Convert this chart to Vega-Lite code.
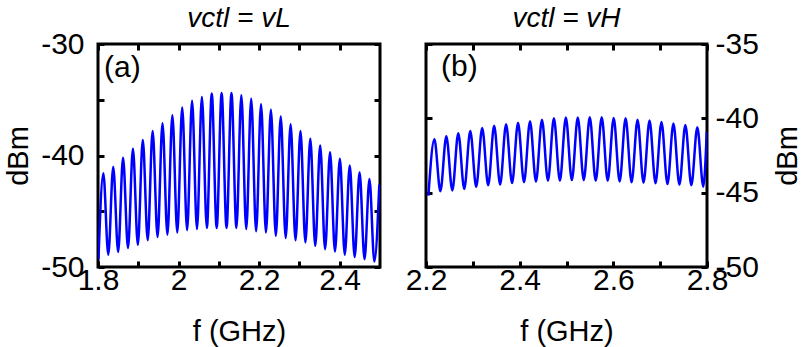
{
  "$schema": "https://vega.github.io/schema/vega-lite/v6.json",
  "background": "white",
  "padding": {"left": 3, "top": 3, "right": 0, "bottom": 0},
  "spacing": 46,
  "bounds": "flush",
  "config": {
    "font": "Liberation Sans",
    "view": {"stroke": "black", "strokeWidth": 3},
    "axis": {
      "domain": false, "grid": false, "ticks": true, "tickSize": -6, "tickWidth": 3, "tickColor": "black",
      "labelFont": "Liberation Sans", "labelFontSize": 30, "labelColor": "black", "labelOverlap": false, "labelFlush": false,
      "titleFont": "Liberation Sans", "titleFontSize": 29, "titleFontWeight": "normal", "titleColor": "black"
    },
    "title": {"font": "Liberation Sans", "fontSize": 28, "fontStyle": "italic", "fontWeight": "normal", "color": "black", "anchor": "middle"}
  },
  "datasets": {
    "a": [
      {"f": 1.8011, "dBm": -49.3}, {"f": 1.8133, "dBm": -41.6}, {"f": 1.8255, "dBm": -48.9}, {"f": 1.8378, "dBm": -41.0},
      {"f": 1.8500, "dBm": -48.65}, {"f": 1.8622, "dBm": -40.2}, {"f": 1.8745, "dBm": -48.3}, {"f": 1.8867, "dBm": -39.4},
      {"f": 1.8989, "dBm": -48.0}, {"f": 1.9112, "dBm": -38.6}, {"f": 1.9234, "dBm": -47.6}, {"f": 1.9356, "dBm": -37.8},
      {"f": 1.9479, "dBm": -47.3}, {"f": 1.9601, "dBm": -37.1}, {"f": 1.9723, "dBm": -47.1}, {"f": 1.9846, "dBm": -36.4},
      {"f": 1.9968, "dBm": -46.9}, {"f": 2.0090, "dBm": -35.7}, {"f": 2.0212, "dBm": -46.7}, {"f": 2.0335, "dBm": -35.1},
      {"f": 2.0457, "dBm": -46.6}, {"f": 2.0579, "dBm": -34.75}, {"f": 2.0702, "dBm": -46.5}, {"f": 2.0824, "dBm": -34.45},
      {"f": 2.0946, "dBm": -46.5}, {"f": 2.1069, "dBm": -34.4}, {"f": 2.1191, "dBm": -46.5}, {"f": 2.1313, "dBm": -34.4},
      {"f": 2.1436, "dBm": -46.5}, {"f": 2.1558, "dBm": -34.6}, {"f": 2.1680, "dBm": -46.6}, {"f": 2.1803, "dBm": -34.9},
      {"f": 2.1925, "dBm": -46.8}, {"f": 2.2047, "dBm": -35.4}, {"f": 2.2169, "dBm": -46.9}, {"f": 2.2292, "dBm": -35.9},
      {"f": 2.2414, "dBm": -47.2}, {"f": 2.2536, "dBm": -36.5}, {"f": 2.2659, "dBm": -47.4}, {"f": 2.2781, "dBm": -37.2},
      {"f": 2.2903, "dBm": -47.6}, {"f": 2.3026, "dBm": -37.8}, {"f": 2.3148, "dBm": -47.8}, {"f": 2.3270, "dBm": -38.5},
      {"f": 2.3393, "dBm": -48.1}, {"f": 2.3515, "dBm": -39.1}, {"f": 2.3637, "dBm": -48.4}, {"f": 2.3760, "dBm": -39.7},
      {"f": 2.3882, "dBm": -48.6}, {"f": 2.4004, "dBm": -40.3}, {"f": 2.4126, "dBm": -48.9}, {"f": 2.4249, "dBm": -40.9},
      {"f": 2.4371, "dBm": -49.1}, {"f": 2.4493, "dBm": -41.5}, {"f": 2.4616, "dBm": -49.3}, {"f": 2.4738, "dBm": -42.1},
      {"f": 2.4860, "dBm": -49.5}, {"f": 2.4983, "dBm": -42.6}
    ],
    "b": [
      {"f": 2.2051, "dBm": -45.2}, {"f": 2.2179, "dBm": -41.4}, {"f": 2.2307, "dBm": -44.9}, {"f": 2.2434, "dBm": -41.2},
      {"f": 2.2562, "dBm": -44.85}, {"f": 2.2689, "dBm": -41.0}, {"f": 2.2817, "dBm": -44.75}, {"f": 2.2945, "dBm": -40.85},
      {"f": 2.3072, "dBm": -44.6}, {"f": 2.3200, "dBm": -40.65}, {"f": 2.3328, "dBm": -44.5}, {"f": 2.3455, "dBm": -40.5},
      {"f": 2.3583, "dBm": -44.45}, {"f": 2.3710, "dBm": -40.4}, {"f": 2.3838, "dBm": -44.35}, {"f": 2.3965, "dBm": -40.3},
      {"f": 2.4093, "dBm": -44.3}, {"f": 2.4221, "dBm": -40.2}, {"f": 2.4348, "dBm": -44.25}, {"f": 2.4476, "dBm": -40.1},
      {"f": 2.4604, "dBm": -44.2}, {"f": 2.4731, "dBm": -40.0}, {"f": 2.4859, "dBm": -44.2}, {"f": 2.4986, "dBm": -39.95},
      {"f": 2.5114, "dBm": -44.15}, {"f": 2.5241, "dBm": -39.95}, {"f": 2.5369, "dBm": -44.15}, {"f": 2.5497, "dBm": -39.93},
      {"f": 2.5624, "dBm": -44.2}, {"f": 2.5752, "dBm": -39.93}, {"f": 2.5880, "dBm": -44.2}, {"f": 2.6007, "dBm": -39.98},
      {"f": 2.6135, "dBm": -44.25}, {"f": 2.6262, "dBm": -40.0}, {"f": 2.6390, "dBm": -44.3}, {"f": 2.6517, "dBm": -40.1},
      {"f": 2.6645, "dBm": -44.33}, {"f": 2.6773, "dBm": -40.15}, {"f": 2.6901, "dBm": -44.37}, {"f": 2.7028, "dBm": -40.25},
      {"f": 2.7156, "dBm": -44.42}, {"f": 2.7283, "dBm": -40.35}, {"f": 2.7411, "dBm": -44.46}, {"f": 2.7538, "dBm": -40.45},
      {"f": 2.7666, "dBm": -44.5}, {"f": 2.7793, "dBm": -40.6}, {"f": 2.7921, "dBm": -44.6}, {"f": 2.7995, "dBm": -40.9}
    ],
    "la": [{"f": 1.815, "dBm": -32.15, "label": "(a)"}],
    "lb": [{"f": 2.232, "dBm": -36.55, "label": "(b)"}]
  },
  "hconcat": [
    {
      "width": 282, "height": 223,
      "title": {"text": "vctl = vL", "offset": -4},
      "layer": [
        {
          "data": {"name": "a"},
          "mark": {"type": "line", "color": "#0000ff", "strokeWidth": 2.5, "interpolate": "monotone", "clip": true},
          "encoding": {
            "x": {"field": "f", "type": "quantitative", "scale": {"domain": [1.8, 2.5], "nice": false, "zero": false},
                  "axis": {"orient": "bottom", "values": [1.8, 1.9, 2, 2.1, 2.2, 2.3, 2.4], "labelExpr": "round(datum.value*10) % 2 == 0 ? datum.value + '' : ''", "labelPadding": 4, "title": "f (GHz)", "titlePadding": 22}},
            "y": {"field": "dBm", "type": "quantitative", "scale": {"domain": [-50, -30], "nice": false, "zero": false},
                  "axis": {"orient": "left", "values": [-50, -45, -40, -35, -30], "labelExpr": "datum.value % 10 == 0 ? datum.value + '' : ''", "labelPadding": 20, "title": "dBm", "titlePadding": 7}}
          }
        },
        {
          "data": {"name": "la"},
          "mark": {"type": "text", "align": "left", "baseline": "middle", "fontSize": 30, "font": "Liberation Sans", "color": "black"},
          "encoding": {
            "x": {"field": "f", "type": "quantitative", "axis": {"orient": "top", "values": [1.8, 1.9, 2, 2.1, 2.2, 2.3, 2.4], "labels": false, "title": null}},
            "y": {"field": "dBm", "type": "quantitative", "axis": {"orient": "right", "values": [-50, -45, -40, -35, -30], "labels": false, "title": null}},
            "text": {"field": "label"}
          }
        }
      ],
      "resolve": {"axis": {"x": "independent", "y": "independent"}}
    },
    {
      "width": 281, "height": 223,
      "title": {"text": "vctl = vH", "offset": -4},
      "layer": [
        {
          "data": {"name": "b"},
          "mark": {"type": "line", "color": "#0000ff", "strokeWidth": 2.5, "interpolate": "monotone", "clip": true},
          "encoding": {
            "x": {"field": "f", "type": "quantitative", "scale": {"domain": [2.2, 2.8], "nice": false, "zero": false},
                  "axis": {"orient": "bottom", "values": [2.2, 2.3, 2.4, 2.5, 2.6, 2.7, 2.8], "labelExpr": "round(datum.value*10) % 2 == 0 ? datum.value + '' : ''", "labelPadding": 4, "title": "f (GHz)", "titlePadding": 22}},
            "y": {"field": "dBm", "type": "quantitative", "scale": {"domain": [-50, -35], "nice": false, "zero": false},
                  "axis": {"orient": "right", "values": [-50, -45, -40, -35], "labelExpr": "datum.value + ''", "labelPadding": 14, "title": "dBm", "titleAngle": 270, "titlePadding": 44}}
          }
        },
        {
          "data": {"name": "lb"},
          "mark": {"type": "text", "align": "left", "baseline": "middle", "fontSize": 30, "font": "Liberation Sans", "color": "black"},
          "encoding": {
            "x": {"field": "f", "type": "quantitative", "axis": {"orient": "top", "values": [2.2, 2.3, 2.4, 2.5, 2.6, 2.7, 2.8], "labels": false, "title": null}},
            "y": {"field": "dBm", "type": "quantitative", "axis": {"orient": "left", "values": [-50, -45, -40, -35], "labels": false, "title": null}},
            "text": {"field": "label"}
          }
        }
      ],
      "resolve": {"axis": {"x": "independent", "y": "independent"}}
    }
  ]
}
